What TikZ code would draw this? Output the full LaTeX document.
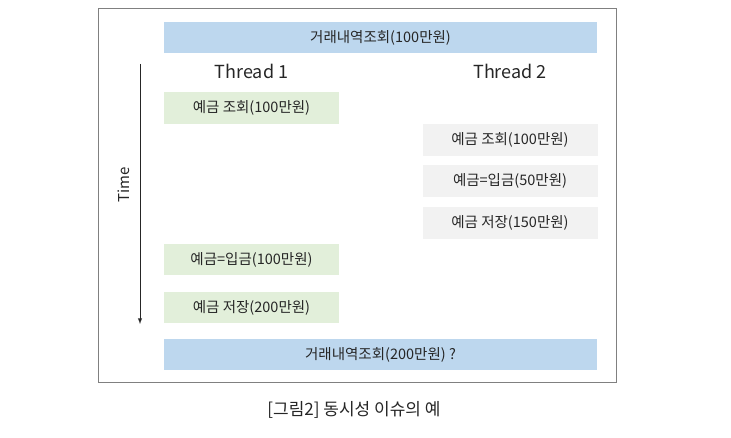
\documentclass[tikz,border=0pt]{standalone}
\usepackage{fontspec}
\setmainfont{Noto Sans CJK KR}
\usepackage{xcolor}
\usepackage{tikz}
\usetikzlibrary{arrows}
\usetikzlibrary{arrows.meta}
\usetikzlibrary{positioning}
\definecolor{barblue}{HTML}{BDD7EE}
\definecolor{stepgreen}{HTML}{E2EFDA}
\definecolor{stepgray}{HTML}{F2F2F2}
\definecolor{txtgray}{HTML}{262626}
\tikzset{>=latex}
\tikzstyle{histbar} = [fill=barblue, draw=none, minimum width=433pt, minimum height=31pt, inner sep=0, text=txtgray, font=\fontsize{14.5}{17}\selectfont]
\tikzstyle{tonebox} = [fill=stepgreen, draw=none, minimum width=175pt, minimum height=32pt, inner sep=0, text=txtgray, font=\fontsize{14.5}{17}\selectfont]
\tikzstyle{ttwobox} = [tonebox, fill=stepgray]

\begin{document}
\begin{tikzpicture}[x=1pt, y=-1pt]
\useasboundingbox [fill=white] (0, 0) rectangle (731, 438);
\draw [draw=black!50, line width=1pt] (98, 9) rectangle (616, 382);
%\node [draw=none, font=\small] at (380, 0) {title};
\node [histbar] (H1) at (380.5, 37.5) {거래내역조회(100만원)};
\node [draw=none, font=\fontsize{18}{21}\selectfont, text=txtgray] (T1) at (251.5, 71) {Thread 1};
\node [draw=none, font=\fontsize{18}{21}\selectfont, text=txtgray] (T2) at (510, 71) {Thread 2};
\node [tonebox] (A1) at (251.5, 108) {예금 조회(100만원)};
\node [ttwobox] (B1) at (510, 140) {예금 조회(100만원)};
\node [ttwobox] (B2) at (510, 181) {예금=입금(50만원)};
\node [ttwobox] (B3) at (510, 223) {예금 저장(150만원)};
\node [tonebox, minimum height=31pt] (A2) at (251.5, 259.5) {예금=입금(100만원)};
\node [tonebox, minimum height=31pt] (A3) at (251.5, 307.5) {예금 저장(200만원)};
\node [histbar] (H2) at (380.5, 354.5) {거래내역조회(200만원) ?};
\coordinate (t0) at (140, 64);
\coordinate (t1) at (140, 324);
\draw [-latex, draw=black!85, line width=0.9pt] (t0) to (t1);
\node [draw=none, rotate=90, font=\fontsize{15}{17}\selectfont, text=txtgray] (TL) at (124, 185) {Time};
\node [draw=none, font=\fontsize{17}{20}\selectfont, text=txtgray] (CAP) at (354, 410) {[그림2] 동시성 이슈의 예};
\end{tikzpicture}
\end{document}
